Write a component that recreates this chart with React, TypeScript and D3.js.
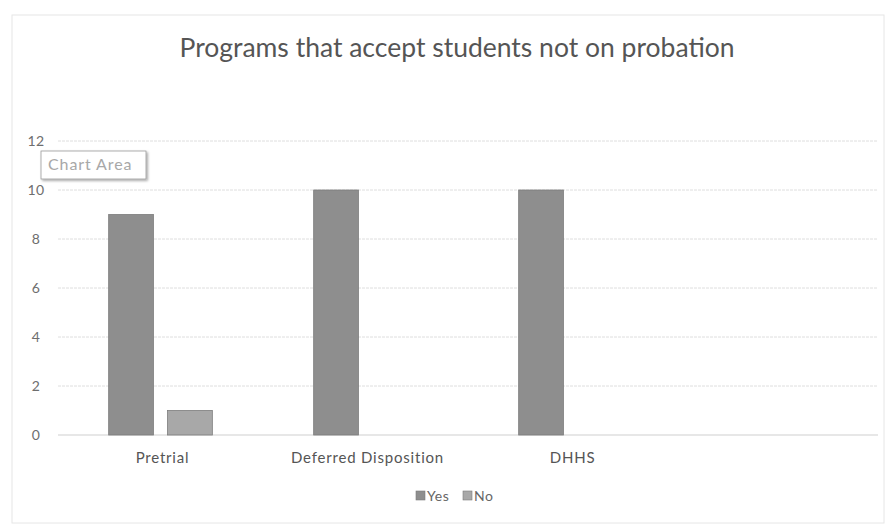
import React from 'react';
import * as d3 from 'd3';

// chart values
const categories = ['Pretrial', 'Deferred Disposition', 'DHHS', ''];
const seriesNames = ['Yes', 'No'];
const yesValues = [9, 10, 10, 0];
const noValues = [1, 0, 0, 0];
const yTicks = [0, 2, 4, 6, 8, 10, 12];

const SERIES_COLORS: Record<string, string> = {
  Yes: '#8e8e8e',
  No: '#a8a8a8'
};

const W = 889;
const H = 527;
const FONT = 'Lato, "Open Sans", sans-serif';

export default function App() {
  const x = d3.scaleBand<string>().domain(categories).range([58, 878]);
  const xInner = d3.scaleBand<string>()
    .domain(seriesNames)
    .range([0, x.bandwidth()])
    .paddingInner(0.24)
    .paddingOuter(0.86);
  const y = d3.scaleLinear().domain([0, 12]).range([435, 141]);

  const rows = categories.map((c, i) => ({ category: c, Yes: yesValues[i], No: noValues[i] }));

  return (
    <svg width={W} height={H} style={{ position: 'absolute', left: 0, top: 0, background: '#fff' }}>
      <defs>
        <filter id="tipShadow" x="-10%" y="-20%" width="130%" height="160%">
          <feDropShadow dx="1.5" dy="1.5" stdDeviation="1.2" floodColor="#000" floodOpacity="0.35" />
        </filter>
      </defs>

      {/* chart border */}
      <rect x={12} y={15} width={872} height={508} fill="#fff" stroke="#e6e6e6" strokeWidth={1} />

      {/* title */}
      <text x={457} y={57} textAnchor="middle" fontFamily={FONT} fontSize={26.5} fill="#555">
        Programs that accept students not on probation
      </text>

      {/* gridlines and y tick labels */}
      {yTicks.map(t => (
        <g key={t}>
          <line x1={58} x2={878} y1={y(t)} y2={y(t)} stroke={t === 0 ? '#cfcfcf' : '#dedede'} strokeWidth={1} strokeDasharray={t === 0 ? undefined : '3 1'} />
          <text x={36} y={y(t) + 5} textAnchor="middle" fontFamily={FONT} fontSize={14} letterSpacing={0.5} fill="#6e6e6e">{t}</text>
        </g>
      ))}

      {/* bars */}
      {rows.map(r => (
        <g key={r.category} transform={`translate(${x(r.category)},0)`}>
          {seriesNames.map(s => {
            const v = (r as any)[s] as number;
            if (!v) return null;
            return (
              <rect
                key={s}
                x={xInner(s)}
                y={y(v)}
                width={xInner.bandwidth()}
                height={y(0) - y(v)}
                fill={SERIES_COLORS[s]}
                stroke="#7c7c7c"
                strokeWidth={0.8}
              />
            );
          })}
          <text
            x={x.bandwidth() / 2 + 2}
            y={463}
            textAnchor="middle"
            fontFamily={FONT}
            fontSize={15}
            letterSpacing={0.8}
            fill="#555"
          >
            {r.category}
          </text>
        </g>
      ))}

      {/* legend */}
      <g transform="translate(416,501)">
        {seriesNames.map((s, i) => (
          <g key={s} transform={`translate(${i * 47},0)`}>
            <rect x={0} y={-10} width={9} height={9} fill={SERIES_COLORS[s]} stroke="#7c7c7c" strokeWidth={0.6} />
            <text x={11} y={0} fontFamily={FONT} fontSize={14} letterSpacing={0.6} fill="#666">{s}</text>
          </g>
        ))}
      </g>

      {/* "Chart Area" hover tip */}
      <g filter="url(#tipShadow)">
        <rect x={41} y={151} width={105} height={28} fill="#fff" stroke="#9a9a9a" strokeWidth={0.8} />
      </g>
      <text x={48} y={170} fontFamily={FONT} fontSize={16} letterSpacing={0.9} fill="#a8a8a8">Chart Area</text>
    </svg>
  );
}
